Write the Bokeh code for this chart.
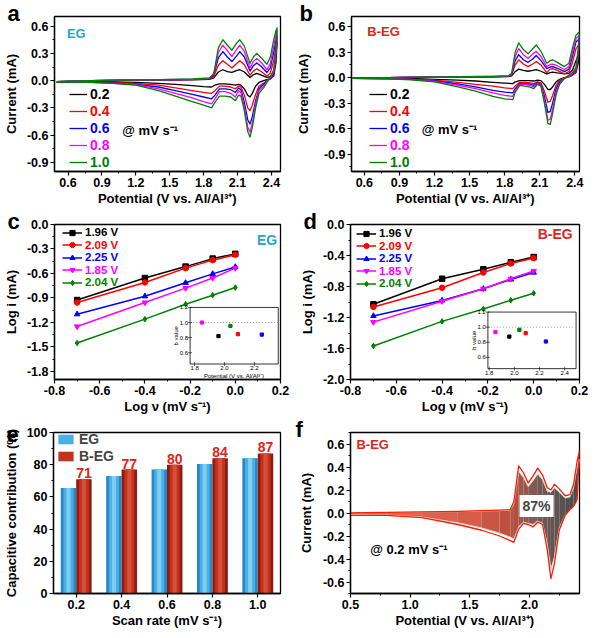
import math
from bokeh.plotting import figure
from bokeh.layouts import column, row
from bokeh.models import (Range1d, FixedTicker, PrintfTickFormatter, Label, Title,
                          Legend, LegendItem, FactorRange, ColumnDataSource)
from bokeh.transform import dodge
from bokeh.core.properties import value
from bokeh.embed import file_html
from bokeh.resources import INLINE

FONT = "Liberation Sans"

# ------------------------------------------------------------------ data
rates = ["0.2", "0.4", "0.6", "0.8", "1.0"]
rate_colors = ["#000000", "#ff0000", "#0000ff", "#ff00ff", "#008000"]

# panel a (EG) CV, anodic (forward) branch
a_pot_up = [0.50, 0.80, 1.10, 1.40, 1.70, 1.85, 1.89, 1.93, 1.97, 2.01, 2.05, 2.09, 2.12, 2.16, 2.21, 2.24, 2.27, 2.31, 2.36, 2.39, 2.42, 2.44, 2.45]
a_up_02 = [-0.01, 0.00, 0.003, 0.006, 0.01, 0.014, 0.03, 0.095, 0.12, 0.10, 0.09, 0.11, 0.12, 0.095, 0.035, 0.065, 0.08, 0.06, 0.035, 0.045, 0.10, 0.26, 0.42]
a_up_04 = [-0.01, 0.00, 0.005, 0.01, 0.012, 0.018, 0.045, 0.17, 0.22, 0.18, 0.14, 0.185, 0.22, 0.175, 0.06, 0.105, 0.13, 0.10, 0.05, 0.085, 0.22, 0.38, 0.47]
a_up_06 = [-0.01, 0.00, 0.005, 0.01, 0.015, 0.02, 0.06, 0.25, 0.32, 0.26, 0.21, 0.27, 0.32, 0.26, 0.105, 0.165, 0.195, 0.155, 0.09, 0.14, 0.31, 0.45, 0.50]
a_up_08 = [-0.01, 0.00, 0.005, 0.01, 0.015, 0.025, 0.07, 0.31, 0.39, 0.33, 0.265, 0.34, 0.39, 0.32, 0.14, 0.21, 0.245, 0.20, 0.12, 0.19, 0.38, 0.50, 0.55]
a_up_10 = [-0.01, 0.00, 0.005, 0.01, 0.02, 0.03, 0.08, 0.36, 0.45, 0.39, 0.335, 0.41, 0.45, 0.38, 0.19, 0.26, 0.30, 0.25, 0.18, 0.26, 0.45, 0.55, 0.58]
# panel a cathodic (reverse) branch
a_pot_dn = [2.45, 2.44, 2.42, 2.39, 2.36, 2.33, 2.29, 2.26, 2.23, 2.21, 2.19, 2.16, 2.13, 2.11, 2.08, 2.04, 1.99, 1.94, 1.90, 1.87, 1.80, 1.70, 1.55, 1.40, 1.20, 1.00, 0.80, 0.50]
a_dn_02 = [0.42, 0.20, 0.05, 0.02, 0.01, 0.00, -0.02, -0.06, -0.14, -0.18, -0.16, -0.09, -0.05, -0.04, -0.05, -0.04, -0.035, -0.035, -0.05, -0.07, -0.065, -0.055, -0.04, -0.03, -0.02, -0.015, -0.015, -0.02]
a_dn_04 = [0.47, 0.25, 0.06, 0.02, 0.00, -0.03, -0.06, -0.15, -0.27, -0.33, -0.30, -0.16, -0.07, -0.06, -0.09, -0.07, -0.06, -0.06, -0.11, -0.14, -0.13, -0.11, -0.08, -0.05, -0.03, -0.02, -0.02, -0.02]
a_dn_06 = [0.50, 0.28, 0.08, 0.02, -0.005, -0.04, -0.09, -0.22, -0.40, -0.478, -0.43, -0.24, -0.10, -0.08, -0.13, -0.10, -0.09, -0.09, -0.16, -0.20, -0.18, -0.15, -0.11, -0.07, -0.04, -0.025, -0.02, -0.02]
a_dn_08 = [0.55, 0.32, 0.10, 0.03, -0.01, -0.06, -0.11, -0.26, -0.47, -0.566, -0.51, -0.29, -0.13, -0.11, -0.18, -0.14, -0.12, -0.12, -0.20, -0.255, -0.23, -0.19, -0.14, -0.09, -0.045, -0.03, -0.02, -0.02]
a_dn_10 = [0.58, 0.35, 0.12, 0.04, -0.02, -0.08, -0.14, -0.30, -0.52, -0.62, -0.56, -0.33, -0.17, -0.16, -0.22, -0.18, -0.17, -0.17, -0.24, -0.30, -0.27, -0.23, -0.17, -0.11, -0.05, -0.03, -0.02, -0.02]

# panel b (B-EG) CV
b_pot_up = [0.50, 0.80, 1.10, 1.40, 1.70, 1.83, 1.86, 1.89, 1.92, 1.96, 2.00, 2.04, 2.07, 2.11, 2.16, 2.19, 2.21, 2.25, 2.31, 2.35, 2.38, 2.41, 2.44]
b_up_02 = [0.0, 0.0, 0.005, 0.005, 0.01, 0.012, 0.02, 0.07, 0.10, 0.085, 0.075, 0.085, 0.095, 0.075, 0.045, 0.06, 0.065, 0.055, 0.045, 0.05, 0.09, 0.20, 0.30]
b_up_04 = [0.0, 0.0, 0.005, 0.01, 0.01, 0.015, 0.03, 0.15, 0.21, 0.16, 0.13, 0.16, 0.19, 0.15, 0.06, 0.10, 0.105, 0.085, 0.045, 0.07, 0.18, 0.34, 0.40]
b_up_06 = [0.0, 0.0, 0.005, 0.01, 0.012, 0.018, 0.035, 0.20, 0.27, 0.21, 0.18, 0.22, 0.26, 0.20, 0.105, 0.125, 0.13, 0.11, 0.07, 0.10, 0.25, 0.42, 0.46]
b_up_08 = [0.0, 0.0, 0.005, 0.01, 0.015, 0.02, 0.04, 0.25, 0.34, 0.27, 0.225, 0.28, 0.31, 0.25, 0.13, 0.155, 0.16, 0.14, 0.095, 0.13, 0.30, 0.46, 0.50]
b_up_10 = [0.0, 0.0, 0.005, 0.01, 0.015, 0.02, 0.05, 0.30, 0.41, 0.33, 0.28, 0.34, 0.385, 0.31, 0.17, 0.20, 0.21, 0.18, 0.13, 0.17, 0.35, 0.50, 0.54]
b_pot_dn = [2.44, 2.43, 2.41, 2.38, 2.35, 2.31, 2.27, 2.24, 2.21, 2.19, 2.17, 2.14, 2.11, 2.08, 2.05, 2.01, 1.97, 1.93, 1.89, 1.87, 1.80, 1.70, 1.55, 1.40, 1.20, 1.00, 0.80, 0.50]
b_dn_02 = [0.30, 0.18, 0.06, 0.03, 0.01, 0.00, -0.02, -0.05, -0.11, -0.14, -0.14, -0.08, -0.035, -0.03, -0.04, -0.035, -0.035, -0.035, -0.05, -0.07, -0.065, -0.055, -0.04, -0.03, -0.02, -0.01, -0.01, -0.01]
b_dn_04 = [0.40, 0.24, 0.07, 0.03, 0.01, -0.005, -0.03, -0.09, -0.21, -0.28, -0.29, -0.16, -0.06, -0.05, -0.07, -0.06, -0.055, -0.055, -0.10, -0.13, -0.12, -0.10, -0.08, -0.055, -0.03, -0.02, -0.01, -0.01]
b_dn_06 = [0.46, 0.28, 0.09, 0.04, 0.02, -0.01, -0.05, -0.13, -0.30, -0.40, -0.41, -0.22, -0.08, -0.06, -0.09, -0.075, -0.07, -0.07, -0.13, -0.18, -0.17, -0.15, -0.11, -0.075, -0.04, -0.02, -0.015, -0.01]
b_dn_08 = [0.50, 0.32, 0.10, 0.05, 0.02, -0.01, -0.07, -0.17, -0.37, -0.49, -0.50, -0.27, -0.09, -0.07, -0.11, -0.09, -0.08, -0.08, -0.15, -0.22, -0.21, -0.18, -0.13, -0.09, -0.045, -0.02, -0.015, -0.01]
b_dn_10 = [0.54, 0.35, 0.12, 0.06, 0.03, -0.01, -0.08, -0.20, -0.42, -0.55, -0.54, -0.30, -0.10, -0.08, -0.13, -0.11, -0.10, -0.09, -0.17, -0.26, -0.25, -0.22, -0.16, -0.11, -0.05, -0.025, -0.015, -0.01]

# panels c, d : log(i) vs log(v)
peak_labels = ["1.96 V", "2.09 V", "2.25 V", "1.85 V", "2.04 V"]
peak_colors = ["#000000", "#ff0000", "#0000ff", "#ff00ff", "#008000"]
peak_markers = ["square", "circle", "triangle", "inverted_triangle", "diamond"]
log_v = [-0.70, -0.40, -0.22, -0.10, 0.00]
c_196 = [-0.926, -0.656, -0.516, -0.418, -0.36]
c_209 = [-0.957, -0.71, -0.535, -0.437, -0.37]
c_225 = [-1.10, -0.88, -0.715, -0.605, -0.52]
c_185 = [-1.25, -0.957, -0.78, -0.656, -0.535]
c_204 = [-1.453, -1.16, -0.977, -0.867, -0.773]
d_196 = [-1.03, -0.70, -0.577, -0.487, -0.42]
d_209 = [-1.064, -0.816, -0.62, -0.503, -0.433]
d_225 = [-1.18, -0.98, -0.83, -0.71, -0.62]
d_185 = [-1.26, -0.99, -0.83, -0.70, -0.60]
d_204 = [-1.567, -1.25, -1.09, -0.977, -0.887]
# insets: b value vs potential
b_pot = [1.85, 1.96, 2.04, 2.09, 2.25]
b_cols = ["#ff00ff", "#000000", "#008000", "#ff0000", "#0000ff"]
c_bval = [1.00, 0.82, 0.955, 0.845, 0.84]
d_bval = [0.935, 0.875, 0.965, 0.92, 0.81]

# panel e : capacitive contribution (%)
e_eg = [65.5, 73.0, 77.0, 80.5, 84.0]
e_beg = [71.0, 77.0, 80.0, 84.0, 87.0]
e_labels = ["71", "77", "80", "84", "87"]

# panel f : B-EG total CV and capacitive part
f_pot = [0.50, 0.80, 1.10, 1.40, 1.60, 1.75, 1.84, 1.87, 1.91, 1.95, 1.99, 2.03, 2.07, 2.11, 2.15, 2.18, 2.21, 2.25, 2.30, 2.34, 2.37, 2.40, 2.42]
f_tot_up = [0.0, 0.005, 0.01, 0.015, 0.02, 0.025, 0.03, 0.10, 0.41, 0.35, 0.26, 0.32, 0.39, 0.33, 0.22, 0.20, 0.25, 0.21, 0.15, 0.16, 0.25, 0.45, 0.54]
f_tot_dn = [-0.02, -0.02, -0.04, -0.10, -0.15, -0.20, -0.24, -0.255, -0.14, -0.09, -0.10, -0.12, -0.08, -0.10, -0.32, -0.57, -0.44, -0.15, -0.02, 0.03, 0.06, 0.12, 0.54]
f_cap_up = [0.0, 0.004, 0.008, 0.012, 0.016, 0.02, 0.025, 0.08, 0.36, 0.31, 0.23, 0.28, 0.34, 0.29, 0.19, 0.18, 0.22, 0.18, 0.13, 0.14, 0.22, 0.40, 0.47]
f_cap_dn = [-0.015, -0.018, -0.035, -0.085, -0.13, -0.175, -0.21, -0.225, -0.12, -0.08, -0.09, -0.10, -0.07, -0.09, -0.27, -0.49, -0.38, -0.13, -0.015, 0.025, 0.05, 0.10, 0.47]

# tick values
a_xt = [0.6, 0.9, 1.2, 1.5, 1.8, 2.1, 2.4]
a_yt = [-0.9, -0.6, -0.3, 0.0, 0.3, 0.6]
c_xt = [-0.8, -0.6, -0.4, -0.2, 0.0, 0.2]
c_yt = [0.0, -0.3, -0.6, -0.9, -1.2, -1.5, -1.8]
d_yt = [0.0, -0.4, -0.8, -1.2, -1.6, -2.0]
e_yt = [0, 20, 40, 60, 80, 100]
f_xt = [0.5, 1.0, 1.5, 2.0]
f_yt = [-0.6, -0.4, -0.2, 0.0, 0.2, 0.4, 0.6]

EG_COL = "#2ba6c6"
BEG_COL = "#e2231a"

# ------------------------------------------------------------------ helpers
W1, L1, R1 = 292, 48, 12
W2, L2, R2 = 296, 58, 9
H1, T1, B1 = 208, 16, 36
H2, T2, B2 = 208, 16, 36
H3, T3, B3 = 214, 16, 36


def minors(ticks, lo, hi):
    t = sorted(ticks)
    step = t[1] - t[0]
    m = [t[0] - step / 2] + [(a + b) / 2 for a, b in zip(t, t[1:])] + [t[-1] + step / 2]
    return [v for v in m if lo <= v <= hi]


def make_fig(w, h, l, r, t, b, xr, yr, xlabel, ylabel, ystand=5):
    p = figure(width=w, height=h, x_range=xr, y_range=yr, output_backend="svg",
               toolbar_location=None, min_border_left=l, min_border_right=r,
               min_border_top=t, min_border_bottom=b)
    p.xgrid.visible = False
    p.ygrid.visible = False
    p.outline_line_color = "black"
    p.outline_line_width = 1.3
    p.outline_line_alpha = 1.0
    for ax in (p.xaxis, p.yaxis):
        ax.axis_line_width = 1.3
        ax.axis_line_color = "black"
        ax.major_tick_line_width = 1.2
        ax.minor_tick_line_width = 1.0
        ax.major_tick_out = 4
        ax.major_tick_in = 0
        ax.minor_tick_out = 2
        ax.minor_tick_in = 0
        ax.major_label_text_font = FONT
        ax.major_label_text_font_style = "bold"
        ax.major_label_text_font_size = "12.5px"
        ax.major_label_text_line_height = 1.0
        ax.major_label_text_color = "black"
        ax.axis_label_text_font = FONT
        ax.axis_label_text_font_style = "bold"
        ax.axis_label_text_font_size = "13px"
        ax.axis_label_text_line_height = 1.0
        ax.axis_label_text_color = "black"
        ax.major_label_standoff = 2
    p.xaxis.axis_label = xlabel
    p.yaxis.axis_label = ylabel
    p.xaxis.axis_label_standoff = 1
    p.yaxis.axis_label_standoff = ystand
    return p


def set_ticks(p, xt, yt):
    if xt is not None:
        p.xaxis.ticker = FixedTicker(ticks=xt, minor_ticks=minors(xt, p.x_range.start, p.x_range.end))
        p.xaxis.formatter = PrintfTickFormatter(format="%.1f")
    if yt is not None:
        p.yaxis.ticker = FixedTicker(ticks=yt, minor_ticks=minors(yt, p.y_range.start, p.y_range.end))
        p.yaxis.formatter = PrintfTickFormatter(format="%.1f")


def letter(p, txt, dx):
    p.title = Title(text=txt, align="left", offset=dx, standoff=-18, vertical_align="bottom",
                    text_font=FONT, text_font_style="bold", text_font_size="22px",
                    text_color="black")


def note(p, x, y, txt, color="black", size="13px", align="left"):
    p.add_layout(Label(x=x, y=y, text=txt, text_font=FONT, text_font_style="bold",
                       text_font_size=size, text_color=color, text_align=align,
                       text_baseline="middle"))


def entry_legend(p, renderers, label, color, x_off, y_from_bottom, gw, gh, fs):
    leg = Legend(items=[LegendItem(label=label, renderers=renderers)],
                 location=(x_off, y_from_bottom - gh / 2), orientation="vertical",
                 padding=0, margin=0, spacing=0, glyph_width=gw, glyph_height=gh,
                 label_height=gh, label_width=10, label_standoff=3,
                 background_fill_alpha=0, border_line_alpha=0,
                 label_text_font=FONT, label_text_font_style="bold",
                 label_text_line_height=1.0,
                 label_text_font_size=fs, label_text_color=color)
    p.add_layout(leg)


def cv_panel(p, pot_up, pot_dn, ups, dns, leg_x, leg_yb):
    for u, d, c, lab, yb in zip(ups, dns, rate_colors, rates, leg_yb):
        r = p.line(pot_up + pot_dn, u + d, line_color=c, line_width=1.3, line_join="round")
        entry_legend(p, [r], lab, c, leg_x, yb, 18, 16, "14px")


def log_panel(p, series, leg_x, leg_yt, fh):
    for s, lab, c, m, yt in zip(series, peak_labels, peak_colors, peak_markers, leg_yt):
        lr = p.line(log_v, s, line_color=c, line_width=1.5)
        sr = p.scatter(log_v, s, marker=m, size=5.5, fill_color=c, line_color=c)
        entry_legend(p, [lr, sr], lab, c, leg_x, fh - yt, 20, 13, "11.5px")


def add_inset(p, fx, fy, xsrc, ysrc, xt, yt, bvals):
    xr, yr = p.x_range, p.y_range
    tx = Range1d(xr.start + fx[0] * (xr.end - xr.start), xr.start + fx[1] * (xr.end - xr.start))
    ty = Range1d(yr.end - fy[1] * (yr.end - yr.start), yr.end - fy[0] * (yr.end - yr.start))
    s = p.subplot(x_source=Range1d(*xsrc), y_source=Range1d(*ysrc), x_target=tx, y_target=ty)
    x0, x1 = xsrc
    y0, y1 = ysrc
    s.quad(left=[x0], right=[x1], bottom=[y0], top=[y1], fill_color="white",
           line_color="black", line_width=0.8)
    s.line([x0, x1], [1.0, 1.0], line_color="#9a9a9a", line_dash="1 2", line_width=1)
    s.scatter(b_pot, bvals, marker="square", size=3.2, color=b_cols)
    s.scatter(xt, [y0] * len(xt), marker="dash", angle=math.pi / 2, size=4,
              line_color="black", line_width=0.6)
    s.scatter([x0] * len(yt), yt, marker="dash", size=4, line_color="black", line_width=0.6)
    s.text(xt, [y0] * len(xt), text=["%.1f" % v for v in xt], text_font=value(FONT),
           text_font_size="6px", text_align="center", text_baseline="top", y_offset=2,
           text_color="black")
    s.text([x0] * len(yt), yt, text=["%.1f" % v for v in yt], text_font=value(FONT),
           text_font_size="6px", text_align="right", text_baseline="middle", x_offset=-2,
           text_color="black")
    s.text([(x0 + x1) / 2], [y0], text=["Potential (V vs. Al/Al\u00b3\u207a)"],
           text_font=value(FONT), text_font_size="6px", text_align="center",
           text_baseline="top", y_offset=9, text_color="black")
    s.text([x0], [(y0 + y1) / 2], text=["b value"], angle=math.pi / 2, text_font=value(FONT),
           text_font_size="6px", text_align="center", text_baseline="bottom", x_offset=-11,
           text_color="black")


XLAB_CV = "Potential (V vs. Al/Al\u00b3\u207a)"
CV_LEG_Y = [77, 60, 43, 26, 9]

# ------------------------------------------------------------------ panel a
pa = make_fig(W1, H1, L1, R1, T1, B1, Range1d(0.48, 2.48), Range1d(-1.0, 0.706),
              XLAB_CV, "Current (mA)")
set_ticks(pa, a_xt, a_yt)
cv_panel(pa, a_pot_up, a_pot_dn, [a_up_02, a_up_04, a_up_06, a_up_08, a_up_10],
         [a_dn_02, a_dn_04, a_dn_06, a_dn_08, a_dn_10], 15, CV_LEG_Y)
note(pa, 0.59, 0.515, "EG", EG_COL)
note(pa, 1.08, -0.545, "@ mV s\u207b\u00b9")
letter(pa, "a", -47)

# ------------------------------------------------------------------ panel b
pb = make_fig(W2, H1, L2, R2, T1, B1, Range1d(0.49, 2.44), Range1d(-1.106, 0.72),
              XLAB_CV, "Current (mA)", ystand=10)
set_ticks(pb, a_xt, a_yt)
cv_panel(pb, b_pot_up, b_pot_dn, [b_up_02, b_up_04, b_up_06, b_up_08, b_up_10],
         [b_dn_02, b_dn_04, b_dn_06, b_dn_08, b_dn_10], 18, CV_LEG_Y)
note(pb, 0.625, 0.54, "B-EG", BEG_COL)
note(pb, 1.09, -0.607, "@ mV s\u207b\u00b9")
letter(pb, "b", -52)

# ------------------------------------------------------------------ panel c
FH2 = H2 - T2 - B2
XLAB_LOG = "Log \u03bd (mV s\u207b\u00b9)"
pc = make_fig(W1, H2, L1, R1, T2, B2, Range1d(-0.8, 0.2), Range1d(-1.9, 0.0),
              XLAB_LOG, "Log i (mA)")
set_ticks(pc, c_xt, c_yt)
log_panel(pc, [c_196, c_209, c_225, c_185, c_204], 8, [9, 21.5, 34, 46.5, 59], FH2)
add_inset(pc, (0.60, 0.99), (0.535, 0.90), (1.77, 2.36), (0.45, 1.2),
          [1.8, 2.0, 2.2], [0.6, 0.8, 1.0, 1.2], c_bval)
note(pc, 0.185, -0.19, "EG", EG_COL, "14px", "right")
letter(pc, "c", -47)

# ------------------------------------------------------------------ panel d
pd_ = make_fig(W2, H2, L2, R2, T2, B2, Range1d(-0.8, 0.2), Range1d(-2.0, 0.0),
               XLAB_LOG, "Log i (mA)")
set_ticks(pd_, c_xt, d_yt)
log_panel(pd_, [d_196, d_209, d_225, d_185, d_204], 6, [10, 22.5, 35, 47.5, 60], FH2)
add_inset(pd_, (0.60, 0.985), (0.565, 0.93), (1.79, 2.49), (0.45, 1.2),
          [1.8, 2.0, 2.2, 2.4], [0.6, 0.8, 1.0, 1.2], d_bval)
note(pd_, 0.17, -0.125, "B-EG", BEG_COL, "14px", "right")
letter(pd_, "d", -47)

# ------------------------------------------------------------------ panel e
FH3 = H3 - T3 - B3
pe = make_fig(W1, H3, L1, R1, T3, B3, FactorRange(factors=rates), Range1d(0, 100),
              "Scan rate (mV s\u207b\u00b9)", "Capacitive contribution (%)")
pe.yaxis.ticker = FixedTicker(ticks=e_yt, minor_ticks=minors(e_yt, 0, 100))
src = ColumnDataSource(dict(rate=rates, eg=e_eg, beg=e_beg, lab=e_labels))
eg_layers = [(0.34, "#2a86c6"), (0.22, "#4aafe6"), (0.09, "#80cff3")]
beg_layers = [(0.34, "#8e1c12"), (0.22, "#c2321f"), (0.09, "#d9503a")]
eg_r, beg_r = [], []
for w, c in eg_layers:
    eg_r.append(pe.vbar(x=dodge("rate", -0.17, range=pe.x_range), top="eg", width=w,
                        fill_color=c, line_color=None, source=src))
for w, c in beg_layers:
    beg_r.append(pe.vbar(x=dodge("rate", 0.17, range=pe.x_range), top="beg", width=w,
                         fill_color=c, line_color=None, source=src))
pe.text(x=dodge("rate", 0.17, range=pe.x_range), y="beg", text="lab", source=src,
        text_color=BEG_COL, text_font=value(FONT), text_font_style="bold",
        text_font_size="14px", text_align="center", text_baseline="bottom", y_offset=-1)
e_leg = Legend(items=[LegendItem(label="EG", renderers=[eg_r[1]]),
                      LegendItem(label="B-EG", renderers=[beg_r[1]])],
               location=(3, FH3 - 2 - 31), padding=0, margin=0, spacing=1,
               glyph_width=19, glyph_height=12, label_height=15, label_standoff=4,
               background_fill_alpha=0, border_line_alpha=0, label_text_font=FONT,
               label_text_font_style="bold", label_text_font_size="14px",
               label_text_line_height=1.0)
pe.add_layout(e_leg)
letter(pe, "e", -47)

# ------------------------------------------------------------------ panel f
pf = make_fig(W2, H3, L2, R2, T3, B3, Range1d(0.5, 2.42), Range1d(-0.7, 0.7),
              XLAB_CV, "Current (mA)", ystand=6)
set_ticks(pf, f_xt, f_yt)
stops = [(0.5, (226, 112, 92)), (1.5, (214, 92, 72)), (1.85, (185, 80, 63)),
         (2.05, (125, 90, 85)), (2.25, (90, 83, 82)), (2.42, (74, 74, 74))]


def grad(x):
    for (xa, ca), (xb, cb) in zip(stops, stops[1:]):
        if xa <= x <= xb:
            t = (x - xa) / (xb - xa)
            c = [int(round(a + (b - a) * t)) for a, b in zip(ca, cb)]
            return "#%02x%02x%02x" % tuple(c)
    return "#4a4a4a"


for i in range(len(f_pot) - 1):
    xm = 0.5 * (f_pot[i] + f_pot[i + 1])
    pf.varea(x=f_pot[i:i + 2], y1=f_cap_dn[i:i + 2], y2=f_cap_up[i:i + 2],
             fill_color=grad(xm))
pf.line(f_pot + f_pot[::-1], f_cap_up + f_cap_dn[::-1], line_color="#d4d4d4",
        line_width=1.0)
pf.line(f_pot + f_pot[::-1], f_tot_up + f_tot_dn[::-1], line_color="#ff1a00",
        line_width=1.3, line_join="round")
note(pf, 0.55, 0.60, "B-EG", BEG_COL)
pf.add_layout(Label(x=2.06, y=0.06, text="87%", text_font=FONT, text_font_style="bold",
                    text_font_size="14px", text_align="center", text_baseline="middle",
                    background_fill_color="white", padding=3))
note(pf, 0.665, -0.32, "@ 0.2 mV s\u207b\u00b9")
letter(pf, "f", -55)

layout = column(row(pa, pb), row(pc, pd_), row(pe, pf))
open("out.html", "w").write(file_html(layout, INLINE))
